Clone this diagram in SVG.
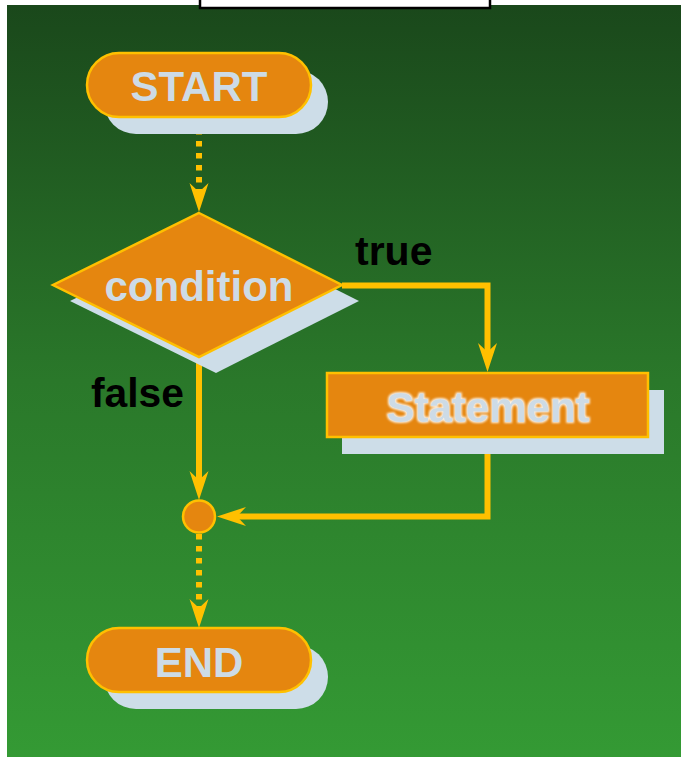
<svg xmlns="http://www.w3.org/2000/svg" width="681" height="757" viewBox="0 0 681 757">
  <style>
    .shadow { fill: #cddde8; }
    .node { fill: #e5860f; stroke: #ffc000; stroke-width: 2.5; }
    .title { font-family: "Liberation Sans", Arial, sans-serif; font-weight: bold; font-size: 42px; fill: #cddbe6; text-anchor: middle; }
    .label { font-family: "Liberation Sans", Arial, sans-serif; font-weight: bold; font-size: 41px; fill: #000000; }
    .flow { fill: none; stroke: #ffc000; stroke-width: 6; }
    .dotted { stroke-dasharray: 5.5 6.5; }
  </style>
  <defs>
    <linearGradient id="bg" x1="0" y1="0" x2="0" y2="1">
      <stop offset="0" stop-color="#1a481b"/>
      <stop offset="0.5" stop-color="#2a782a"/>
      <stop offset="1" stop-color="#349a34"/>
    </linearGradient>
    <marker id="arrow" markerUnits="userSpaceOnUse" viewBox="-10 -10 31 20" refX="0" refY="0" markerWidth="31" markerHeight="20" orient="auto" overflow="visible">
      <path d="M20,0 L-9,-9.5 L0,0 L-9,9.5 Z" fill="#ffc000"/>
    </marker>
    <filter id="glow" x="-10%" y="-30%" width="120%" height="160%">
      <feMorphology in="SourceAlpha" operator="dilate" radius="1" result="thick"/>
      <feGaussianBlur in="thick" stdDeviation="1.3" result="soft"/>
      <feFlood flood-color="#ffffff" flood-opacity="0.9"/>
      <feComposite in2="soft" operator="in" result="halo"/>
      <feMerge>
        <feMergeNode in="halo"/>
        <feMergeNode in="SourceGraphic"/>
      </feMerge>
    </filter>
  </defs>

  <!-- page -->
  <rect x="0" y="0" width="681" height="757" fill="#ffffff"/>
  <rect x="7" y="5" width="674" height="752" fill="url(#bg)"/>
  <rect x="200" y="-4" width="290" height="12" fill="#ffffff" stroke="#000000" stroke-width="2.5"/>

  <!-- connectors -->
  <g id="connectors">
    <path class="flow dotted" d="M199,117 V192" marker-end="url(#arrow)"/>
    <path class="flow" d="M342,285.5 H487.5 V352" marker-end="url(#arrow)"/>
    <path class="flow" d="M199,357 V480" marker-end="url(#arrow)"/>
    <path class="flow" d="M487.5,437 V516.5 H237" marker-end="url(#arrow)"/>
    <path class="flow dotted" d="M199,534 V608" marker-end="url(#arrow)"/>
    <text class="label" x="355" y="265">true</text>
    <text class="label" x="91" y="407" textLength="93" lengthAdjust="spacingAndGlyphs">false</text>
  </g>

  <g id="start">
    <rect class="shadow" x="104" y="70" width="224" height="64" rx="32"/>
    <rect class="node" x="87" y="53" width="224" height="64" rx="32"/>
    <text class="title" x="199" y="101">START</text>
  </g>

  <g id="condition">
    <polygon class="shadow" points="216,229 359,301 216,373 70,301"/>
    <polygon class="node" points="199,213 342,285 199,357 53,285"/>
    <text class="title" x="199" y="301">condition</text>
  </g>

  <g id="statement">
    <rect class="shadow" x="342" y="390" width="322" height="64"/>
    <rect class="node" x="327" y="373" width="321" height="64"/>
    <text class="title" x="488" y="422" filter="url(#glow)">Statement</text>
  </g>

  <g id="merge">
    <circle class="node" cx="199" cy="516.5" r="16"/>
  </g>

  <g id="end">
    <rect class="shadow" x="104" y="645" width="224" height="64" rx="32"/>
    <rect class="node" x="87" y="628" width="224" height="64" rx="32"/>
    <text class="title" x="199" y="677">END</text>
  </g>
</svg>
